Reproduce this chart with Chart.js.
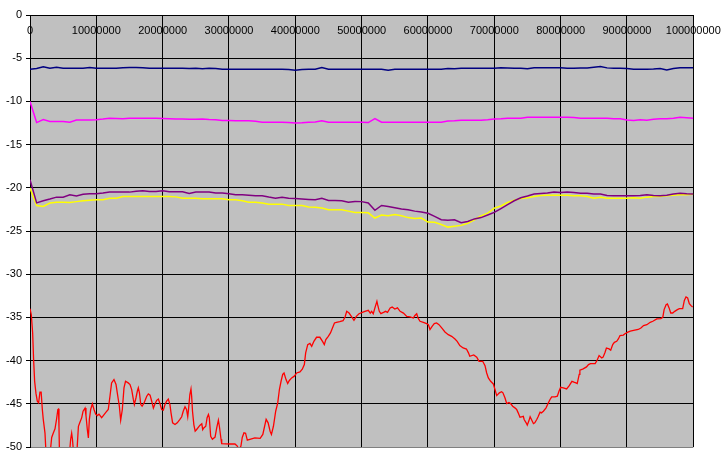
<!DOCTYPE html>
<html>
<head>
<meta charset="utf-8">
<script src="https://cdn.jsdelivr.net/npm/chart.js@4.4.1/dist/chart.umd.min.js"></script>
<style>
html,body{margin:0;padding:0;background:#fff;}
#wrap{width:722px;height:460px;position:relative;}
</style>
</head>
<body>
<div id="wrap"><canvas id="c" width="722" height="460"></canvas></div>
<script>
// x positions in millions for the regularly sampled series (0..100 M, step 1 M)
const gridXM = Array.from({length: 101}, (_, i) => i);

const navySeries = [-6.28,-6.2,-5.98,-6.15,-6.05,-6.15,-6.15,-6.15,-6.15,-6.08,
-6.15,-6.15,-6.15,-6.15,-6.1,-6.08,-6.08,-6.1,-6.16,-6.16,
-6.16,-6.16,-6.16,-6.16,-6.2,-6.16,-6.22,-6.17,-6.2,-6.27,
-6.27,-6.27,-6.27,-6.27,-6.27,-6.27,-6.27,-6.27,-6.27,-6.3,
-6.38,-6.32,-6.27,-6.27,-6.08,-6.27,-6.27,-6.27,-6.27,-6.27,
-6.27,-6.27,-6.27,-6.27,-6.38,-6.27,-6.27,-6.27,-6.27,-6.27,
-6.27,-6.27,-6.27,-6.2,-6.22,-6.17,-6.17,-6.17,-6.17,-6.17,
-6.17,-6.1,-6.12,-6.17,-6.17,-6.22,-6.1,-6.1,-6.1,-6.1,
-6.1,-6.17,-6.17,-6.12,-6.12,-6.05,-5.97,-6.12,-6.17,-6.17,
-6.2,-6.27,-6.27,-6.27,-6.25,-6.2,-6.35,-6.2,-6.1,-6.1,-6.1];

const magentaSeries = [-10.0,-12.45,-12.1,-12.33,-12.33,-12.33,-12.4,-12.15,-12.15,-12.15,
-12.12,-12.05,-11.95,-11.97,-12.02,-11.95,-11.95,-11.95,-11.95,-11.95,
-11.98,-12.02,-12.05,-12.05,-12.07,-12.07,-12.05,-12.1,-12.12,-12.2,
-12.22,-12.25,-12.25,-12.25,-12.3,-12.4,-12.4,-12.4,-12.4,-12.45,
-12.5,-12.47,-12.4,-12.38,-12.25,-12.42,-12.4,-12.4,-12.4,-12.4,
-12.4,-12.45,-12.0,-12.4,-12.4,-12.4,-12.4,-12.4,-12.4,-12.4,
-12.4,-12.4,-12.4,-12.28,-12.25,-12.17,-12.17,-12.17,-12.17,-12.12,
-12.05,-12.02,-11.95,-11.95,-11.95,-11.83,-11.83,-11.83,-11.83,-11.83,
-11.83,-11.83,-11.85,-11.95,-11.95,-11.95,-11.95,-11.95,-12.02,-12.02,
-12.14,-12.2,-12.12,-12.17,-12.06,-12.02,-12.02,-11.95,-11.83,-11.88,-11.95];

const purpleSeries = [-19.07,-21.75,-21.5,-21.3,-21.08,-21.08,-20.8,-20.95,-20.75,-20.7,
-20.68,-20.6,-20.5,-20.5,-20.5,-20.5,-20.4,-20.35,-20.42,-20.42,
-20.35,-20.45,-20.45,-20.45,-20.65,-20.5,-20.5,-20.5,-20.6,-20.6,
-20.7,-20.8,-20.8,-20.85,-20.92,-20.92,-21.07,-21.2,-21.1,-21.2,
-21.25,-21.3,-21.35,-21.39,-21.2,-21.47,-21.47,-21.5,-21.66,-21.58,
-21.6,-21.75,-22.6,-22.05,-22.16,-22.3,-22.46,-22.55,-22.7,-22.81,
-22.95,-23.3,-23.7,-23.75,-23.7,-24.05,-23.9,-23.6,-23.45,-23.15,
-22.85,-22.4,-21.95,-21.5,-21.15,-20.95,-20.73,-20.65,-20.6,-20.5,
-20.55,-20.5,-20.55,-20.62,-20.62,-20.73,-20.73,-20.9,-20.93,-20.93,
-20.93,-20.93,-20.88,-20.8,-20.9,-20.93,-20.85,-20.73,-20.62,-20.7,-20.73];

const yellowSeries = [-20.03,-22.05,-22.15,-21.77,-21.66,-21.66,-21.7,-21.6,-21.5,-21.45,
-21.39,-21.39,-21.2,-21.2,-21.0,-21.0,-21.0,-21.0,-21.0,-21.0,
-21.0,-21.0,-21.05,-21.2,-21.2,-21.2,-21.27,-21.27,-21.27,-21.27,
-21.39,-21.39,-21.5,-21.66,-21.66,-21.75,-21.89,-21.89,-21.89,-22.05,
-22.05,-22.05,-22.23,-22.25,-22.35,-22.54,-22.54,-22.54,-22.7,-22.85,
-22.85,-22.9,-23.5,-23.15,-23.24,-23.1,-23.24,-23.45,-23.55,-23.5,
-23.97,-24.0,-24.25,-24.55,-24.45,-24.35,-24.1,-23.7,-23.25,-22.93,
-22.35,-22.1,-21.7,-21.45,-21.25,-21.15,-21.0,-20.88,-20.85,-20.85,
-20.85,-20.85,-20.93,-20.93,-21.0,-21.2,-21.1,-21.2,-21.2,-21.2,
-21.2,-21.15,-21.2,-21.08,-21.0,-21.0,-20.93,-20.85,-20.8,-20.8,-20.75];

// red series: x positions (millions) and values
const redXM = [0,0.2,0.4,0.55,0.7,0.9,1.1,1.3,1.5,1.68,1.86,2.0,2.26,2.4,2.6,2.9,3.1,3.27,3.5,3.77,
4.0,4.2,4.3,4.37,4.45,4.8,5.7,6.0,6.13,6.28,6.4,6.6,6.9,7.1,7.3,7.5,7.8,8.0,8.3,8.44,
8.64,8.8,8.95,9.15,9.4,9.65,9.9,10.15,10.4,10.8,11.05,11.46,11.8,12.06,12.3,12.66,12.97,13.16,13.47,13.67,
13.92,14.17,14.4,14.8,15.08,15.33,15.58,15.73,15.98,16.18,16.33,16.5,16.7,16.9,17.2,17.6,17.84,18.1,18.35,18.6,
18.85,19.1,19.35,19.6,19.85,20.1,20.35,20.6,20.85,21.1,21.26,21.5,21.86,22.2,22.6,22.87,23.1,23.37,23.6,23.78,
23.9,24.1,24.27,24.37,24.5,24.7,24.9,25.1,25.6,25.9,26.04,26.2,26.5,26.7,26.9,27.03,27.24,27.5,27.9,28.15,
28.4,28.55,28.8,28.9,30.15,30.9,31.25,31.5,31.8,32.0,32.26,32.5,32.76,33.4,33.9,34.7,35.1,35.6,35.9,36.2,
36.4,36.7,37.04,37.35,37.6,37.85,38.1,38.3,38.6,38.85,39.1,39.45,39.85,40.2,40.7,41.05,41.36,41.56,41.87,42.2,
42.47,42.8,43.2,43.7,44.1,44.37,44.6,44.97,45.3,45.6,45.9,46.2,46.7,47.2,47.5,47.75,48.1,48.5,48.84,49.2,
49.6,50.1,50.5,51.0,51.3,51.5,51.75,52.0,52.3,52.4,52.66,52.9,53.3,53.6,53.9,54.3,54.6,55.0,55.4,55.8,
56.3,56.8,57.3,57.8,58.0,58.3,58.5,58.8,59.3,59.8,60.06,60.3,60.65,60.95,61.3,61.66,62.07,62.56,63.06,63.57,
64.07,64.4,64.8,65.3,65.8,66.1,66.3,66.9,67.35,67.7,68.25,68.6,68.85,69.1,69.45,69.85,70.1,70.36,70.76,71.1,
71.3,71.6,71.87,72.2,72.45,72.77,73.1,73.37,73.6,73.87,74.1,74.37,74.5,74.8,74.97,75.2,75.4,75.6,75.9,76.1,
76.4,76.6,76.9,77.1,77.4,77.8,78.1,78.4,78.65,79.15,79.5,79.75,80.0,80.4,80.9,81.3,81.7,82.0,82.3,82.5,
82.8,82.9,83.4,83.9,84.2,84.5,85.2,85.5,85.8,86.2,86.4,86.7,86.9,87.3,87.55,87.85,88.1,88.45,88.7,88.95,
89.45,89.7,90.06,90.5,91.0,91.7,92.1,92.5,93.0,93.5,93.9,94.5,95.1,95.4,95.6,95.9,96.1,96.35,96.6,96.9,
97.2,97.6,97.9,98.4,98.65,98.9,99.15,99.4,99.65,99.9];

const redSeries = [-34.0,-34.7,-36.8,-40.0,-42.4,-43.8,-44.7,-44.9,-43.66,-43.66,-45.66,-46.8,-48.4,-50.5,-52,-52,-50.2,-48.9,-48.4,-47.9,
-46.8,-45.66,-45.6,-47.66,-51,-53,-53,-50.3,-49.1,-48.4,-49.1,-51,-51,-50.2,-47.6,-47.2,-46.6,-45.86,-45.5,-46.36,
-47.98,-48.94,-46.8,-45.66,-45.0,-45.66,-46.2,-46.36,-46.2,-46.6,-46.36,-45.97,-45.66,-44.12,-42.58,-42.2,-42.77,-43.73,-45.28,-46.9,
-45.66,-43.16,-42.39,-42.58,-42.77,-43.35,-44.5,-45.09,-44.3,-43.55,-43.16,-43.73,-45.09,-45.28,-44.9,-44.12,-43.85,-44.0,-44.7,-45.5,
-45.0,-44.6,-44.45,-45.0,-45.66,-45.74,-45.09,-44.7,-44.45,-45.09,-46.05,-47.2,-47.4,-47.2,-46.8,-46.5,-45.86,-45.35,-45.66,-46.5,
-45.66,-43.93,-43.28,-44.12,-45.86,-47.4,-48.17,-48.0,-47.5,-47.3,-48.0,-47.8,-47.6,-46.6,-46.24,-46.6,-48.75,-49.1,-48.85,-47.78,
-46.9,-47.6,-49.1,-49.6,-49.65,-49.65,-49.9,-50.3,-49.9,-48.9,-48.36,-48.4,-49.2,-49.05,-48.94,-49.0,-48.55,-46.8,-47.2,-48.17,
-48.55,-47.6,-45.86,-44.9,-43.35,-42.39,-41.6,-41.43,-42.2,-42.66,-42.3,-42.0,-41.8,-41.43,-41.3,-41.0,-40.46,-39.1,-38.15,-38.0,
-38.35,-37.77,-37.3,-37.3,-37.77,-38.15,-37.57,-37.19,-36.8,-36.22,-35.64,-35.57,-35.5,-35.38,-34.95,-34.3,-34.5,-34.95,-35.34,-34.88,
-34.57,-34.42,-34.3,-34.18,-34.5,-34.3,-34.57,-33.9,-33.14,-33.5,-34.3,-34.57,-34.42,-34.3,-34.42,-33.9,-33.8,-34.03,-33.9,-34.3,
-34.5,-34.88,-34.95,-35.07,-34.8,-34.57,-35.07,-35.45,-35.57,-35.72,-35.84,-36.4,-36.0,-35.72,-35.64,-35.84,-36.22,-36.69,-37.0,-37.19,
-37.5,-37.77,-38.27,-38.54,-38.66,-39.1,-39.5,-39.34,-39.6,-40.08,-40.08,-40.58,-41.43,-42.0,-42.4,-42.7,-43.35,-44.05,-43.73,-43.6,
-43.73,-44.3,-44.97,-44.85,-44.97,-45.28,-45.47,-45.66,-46.05,-46.55,-46.5,-46.45,-46.82,-47.2,-47.47,-47.0,-46.5,-46.82,-47.3,-47.2,
-46.82,-46.5,-45.97,-46.05,-45.86,-45.47,-44.97,-44.5,-44.2,-44.2,-44.12,-43.55,-43.09,-43.15,-43.28,-42.9,-42.4,-42.5,-42.58,-42.66,
-41.6,-41.1,-40.96,-40.73,-40.46,-40.35,-40.35,-39.96,-39.42,-39.7,-39.6,-39.04,-38.54,-38.65,-38.8,-38.15,-37.88,-37.77,-37.5,-37.1,
-37.05,-36.9,-36.73,-36.6,-36.5,-36.4,-36.22,-35.95,-35.84,-35.57,-35.45,-35.18,-35.14,-35.0,-34.1,-33.53,-33.45,-33.9,-34.49,-34.49,
-34.3,-34.1,-33.99,-33.99,-33.03,-32.64,-32.75,-33.41,-33.64,-33.8];

const xTickStep = 10000000;
const yTickStep = 5;
const X_UNIT = 1000000;

function pts(xs, ys) { return ys.map((v, i) => ({x: xs[i] * X_UNIT, y: v})); }

const plotBg = {
  id: 'plotBg',
  beforeDraw(chart) {
    const a = chart.chartArea, c = chart.ctx;
    c.save(); c.fillStyle = '#C0C0C0';
    c.fillRect(a.left, a.top, a.right - a.left, a.bottom - a.top);
    c.restore();
  }
};

const FONT = {family: '"Liberation Sans", Arial, sans-serif', size: 11};

new Chart(document.getElementById('c'), {
  type: 'line',
  data: {
    datasets: [
      {data: pts(gridXM, navySeries), borderColor: '#000080', borderWidth: 1.5},
      {data: pts(gridXM, magentaSeries), borderColor: '#FF00FF', borderWidth: 1.5},
      {data: pts(gridXM, purpleSeries), borderColor: '#800080', borderWidth: 1.5},
      {data: pts(gridXM, yellowSeries), borderColor: '#FFFF00', borderWidth: 1.5},
      {data: pts(redXM, redSeries), borderColor: '#FF0000', borderWidth: 1.3}
    ]
  },
  options: {
    responsive: false,
    animation: false,
    devicePixelRatio: 1,
    layout: {padding: {left: 0, top: 0, right: 28.7, bottom: 13}},
    elements: {point: {radius: 0}, line: {tension: 0, fill: false}},
    plugins: {legend: {display: false}, tooltip: {enabled: false}},
    scales: {
      x: {
        type: 'linear', position: 'top', min: 0, max: 100000000,
        afterFit(s) { s.height = 15; s.paddingLeft = 0; s.paddingRight = 0; },
        border: {color: '#000', width: 1},
        grid: {color: '#000', lineWidth: 1, drawTicks: false},
        ticks: {stepSize: xTickStep, mirror: true, padding: 9, color: '#000', font: FONT,
                maxRotation: 0, autoSkip: false, callback: v => String(v)}
      },
      y: {
        type: 'linear', position: 'left', min: -50, max: 0,
        afterFit(s) { s.width = 30; s.paddingTop = 0; s.paddingBottom = 0; },
        border: {color: '#000', width: 1},
        grid: {color: c => (c.tick && c.tick.value === -50) ? '#808080' : '#000', tickColor: '#000',
               lineWidth: 1, drawTicks: true, tickLength: 4},
        ticks: {stepSize: yTickStep, padding: 4, color: '#000', font: FONT, callback: v => String(v)}
      }
    }
  },
  plugins: [plotBg]
});
</script>
</body>
</html>
